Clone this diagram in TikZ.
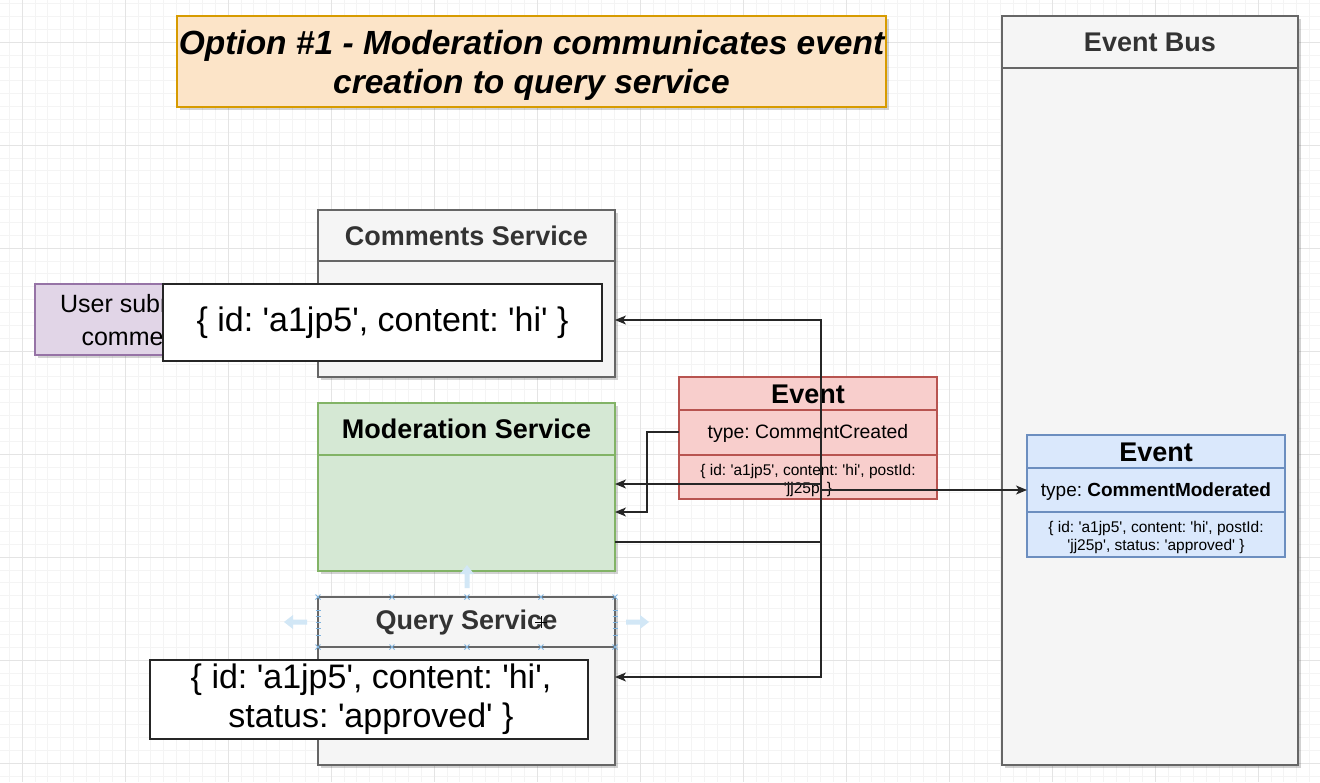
\documentclass[tikz,border=0pt]{standalone}
\usepackage{fontspec}
\setmainfont{Liberation Sans}
\usetikzlibrary{arrows.meta,shadows,calc}
\newcommand\sq{\textquotesingle}
\definecolor{gridminor}{HTML}{F4F4F4}
\definecolor{gridmajor}{HTML}{E4E4E4}
\definecolor{orfill}{HTML}{FCE4C8}
\definecolor{orline}{HTML}{D79B00}
\definecolor{gyfill}{HTML}{F5F5F5}
\definecolor{gyline}{HTML}{666666}
\definecolor{gytext}{HTML}{333333}
\definecolor{grfill}{HTML}{D5E8D4}
\definecolor{grline}{HTML}{82B366}
\definecolor{pufill}{HTML}{E1D5E7}
\definecolor{puline}{HTML}{9673A6}
\definecolor{pkfill}{HTML}{F8CECC}
\definecolor{pkline}{HTML}{B85450}
\definecolor{blfill}{HTML}{DAE8FC}
\definecolor{blline}{HTML}{6C8EBF}
\definecolor{hintblue}{HTML}{D2E7F6}
\definecolor{handleblue}{HTML}{7FB2DD}
\tikzset{
  shad/.style={drop shadow={shadow xshift=2.5pt,shadow yshift=-3pt,opacity=0.25,fill=black!70}},
  box/.style={draw,line width=1.2pt,anchor=north west,inner sep=0pt,outer sep=0pt},
  svcbox/.style={box,shad,fill=gyfill,draw=gyline},
  databox/.style={box,fill=white,draw=black!85},
  conn/.style={draw=black!85,line width=1.3pt},
  arr/.style={conn,-{Stealth[length=11pt,width=9pt,inset=3pt]}},
  darr/.style={conn,{Stealth[length=11pt,width=9pt,inset=3pt]}-{Stealth[length=11pt,width=9pt,inset=3pt]}},
  svctitle/.style={font=\fontsize{27}{32}\selectfont\bfseries,text=gytext},
  hint/.style={fill=hintblue,draw=none},
  handle/.style={draw=handleblue,line width=0.8pt},
}
\begin{document}
\frenchspacing
\begin{tikzpicture}[x=1pt,y=-1pt]
\useasboundingbox (0,0) rectangle (1320,782);
\fill[white] (0,0) rectangle (1320,782);
% grid
\foreach \i in {0,...,102} {\draw[gridminor,line width=0.7pt] ({9.125+\i*12.875},0) -- ({9.125+\i*12.875},782);}
\foreach \i in {0,...,61} {\draw[gridminor,line width=0.7pt] (0,{3.375+\i*12.875}) -- (1320,{3.375+\i*12.875});}
\foreach \k in {0,...,12} {\draw[gridmajor,line width=1pt] ({22+\k*103},0) -- ({22+\k*103},782);}
\foreach \k in {0,...,7} {\draw[gridmajor,line width=1pt] (0,{42+\k*103}) -- (1320,{42+\k*103});}

% title
\node[box,shad,fill=orfill,draw=orline,minimum width=709pt,minimum height=91pt] (title) at (177,16) {};
\node[align=center,font=\fontsize{33.5}{39}\selectfont\bfseries\itshape] (titletext) at ($(title.center)+(0,3.5)$) {Option \#1 - Moderation communicates event\\creation to query service};

% event bus
\node[svcbox,minimum width=296pt,minimum height=749pt] (bus) at (1002,16) {};
\draw[gyline,line width=1.2pt] (bus.west |- 0,68) -- (bus.east |- 0,68);
\node[svctitle] (bustitle) at (1150,42) {Event Bus};

% comments service
\node[svcbox,minimum width=297pt,minimum height=167pt] (cs) at (318,210) {};
\draw[gyline,line width=1.2pt] (cs.west |- 0,261) -- (cs.east |- 0,261);
\node[svctitle] (cstitle) at (466.5,235.5) {Comments Service};

% user submits comment
\node[box,shad,fill=pufill,draw=puline,minimum width=205pt,minimum height=71pt] (user) at (35,284) {};
\node[align=center,font=\fontsize{25}{33}\selectfont] (usertext) at (133,320) {User submits\\comment};

% comment data
\node[databox,minimum width=439pt,minimum height=77pt] (cdata) at (163,284) {};
\node[font=\fontsize{34}{40}\selectfont] (cdatatext) at (cdata.center) {\{ id: \sq a1jp5\sq, content: \sq hi\sq\ \}};

% moderation service
\node[box,shad,fill=grfill,draw=grline,minimum width=297pt,minimum height=168pt] (ms) at (318,403) {};
\draw[grline,line width=1.2pt] (ms.west |- 0,455) -- (ms.east |- 0,455);
\node[svctitle,text=black] (mstitle) at (466.5,429) {Moderation Service};

% query service
\node[svcbox,minimum width=297pt,minimum height=168pt] (qs) at (318,597) {};
\draw[gyline,line width=1.2pt] (qs.west |- 0,647) -- (qs.east |- 0,647);
\node[svctitle] (qstitle) at (466.5,622.5) {Query Service};

% selection handles on query service
\foreach \x in {318,392,467,541,615} {
  \draw[handle] (\x-2.5,594.5) -- (\x+2.5,599.5) (\x-2.5,599.5) -- (\x+2.5,594.5);
  \draw[handle] (\x-2.5,644.5) -- (\x+2.5,649.5) (\x-2.5,649.5) -- (\x+2.5,644.5);
}
\foreach \y in {610,616,622,628,635} {
  \draw[handle] (315.5,\y) -- (320.5,\y);
  \draw[handle] (612.5,\y) -- (617.5,\y);
}
\fill[hint] (464.5,588) -- (464.5,574) -- (460,574) -- (467,565) -- (474,574) -- (469.5,574) -- (469.5,588) -- cycle;
\fill[hint] (307,619.5) -- (293,619.5) -- (293,615) -- (284,622) -- (293,629) -- (293,624.5) -- (307,624.5) -- cycle;
\fill[hint] (626,619.5) -- (640,619.5) -- (640,615) -- (649,622) -- (640,629) -- (640,624.5) -- (626,624.5) -- cycle;
% move cursor
\draw[black,line width=0.9pt] (535,622) -- (547,622) (541,616) -- (541,628);

% query data
\node[databox,minimum width=438pt,minimum height=79pt] (qdata) at (150,660) {};
\node[align=center,font=\fontsize{34}{39}\selectfont] (qdatatext) at ($(qdata.center)+(2,0)$) {\{ id: \sq a1jp5\sq, content: \sq hi\sq,\\status: \sq approved\sq\ \}};

% pink event
\node[box,fill=pkfill,draw=pkline,minimum width=258pt,minimum height=122pt] (ev1) at (679,377) {};
\draw[pkline,line width=1.2pt] (ev1.west |- 0,410) -- (ev1.east |- 0,410);
\draw[pkline,line width=1.2pt] (ev1.west |- 0,455) -- (ev1.east |- 0,455);
\node[font=\fontsize{27}{32}\selectfont\bfseries] (ev1title) at (808,394) {Event};
\node[font=\fontsize{19.4}{23}\selectfont] (ev1type) at (808,433.5) {type: CommentCreated};
\node[align=center,font=\fontsize{15.5}{18}\selectfont] (ev1data) at (808,480) {\{ id: \sq a1jp5\sq, content: \sq hi\sq, postId:\\\sq jj25p\sq\ \}};

% blue event
\node[box,fill=blfill,draw=blline,minimum width=258pt,minimum height=122pt] (ev2) at (1027,435) {};
\draw[blline,line width=1.2pt] (ev2.west |- 0,468) -- (ev2.east |- 0,468);
\draw[blline,line width=1.2pt] (ev2.west |- 0,512) -- (ev2.east |- 0,512);
\node[font=\fontsize{27}{32}\selectfont\bfseries] (ev2title) at (1156,452) {Event};
\node[font=\fontsize{19}{23}\selectfont] (ev2type) at (1156,492) {type: \textbf{CommentModerated}};
\node[align=center,font=\fontsize{15.5}{18}\selectfont] (ev2data) at (1156,537.5) {\{ id: \sq a1jp5\sq, content: \sq hi\sq, postId:\\\sq jj25p\sq, status: \sq approved\sq\ \}};

% connectors
\coordinate (bend) at (821,542);
\coordinate (c1) at (821,320);
\coordinate (c2) at (821,677);
\coordinate (d1) at (821,484);
\coordinate (d2) at (821,490);
\coordinate (p0) at (679,432);
\coordinate (p1) at (647,432);
\coordinate (p2) at (647,512);
\draw[conn] (bend -| ms.east) -- (bend);
\draw[arr] (bend) -- (c1) -- (c1 -| cs.east);
\draw[arr] (bend) -- (c2) -- (c2 -| qs.east);
\draw[darr] (d1 -| ms.east) -- (d1) -- (d2) -- (d2 -| ev2.west);
\draw[arr] (p0 -| ev1.west) -- (p1) -- (p2) -- (p2 -| ms.east);
\end{tikzpicture}
\end{document}
